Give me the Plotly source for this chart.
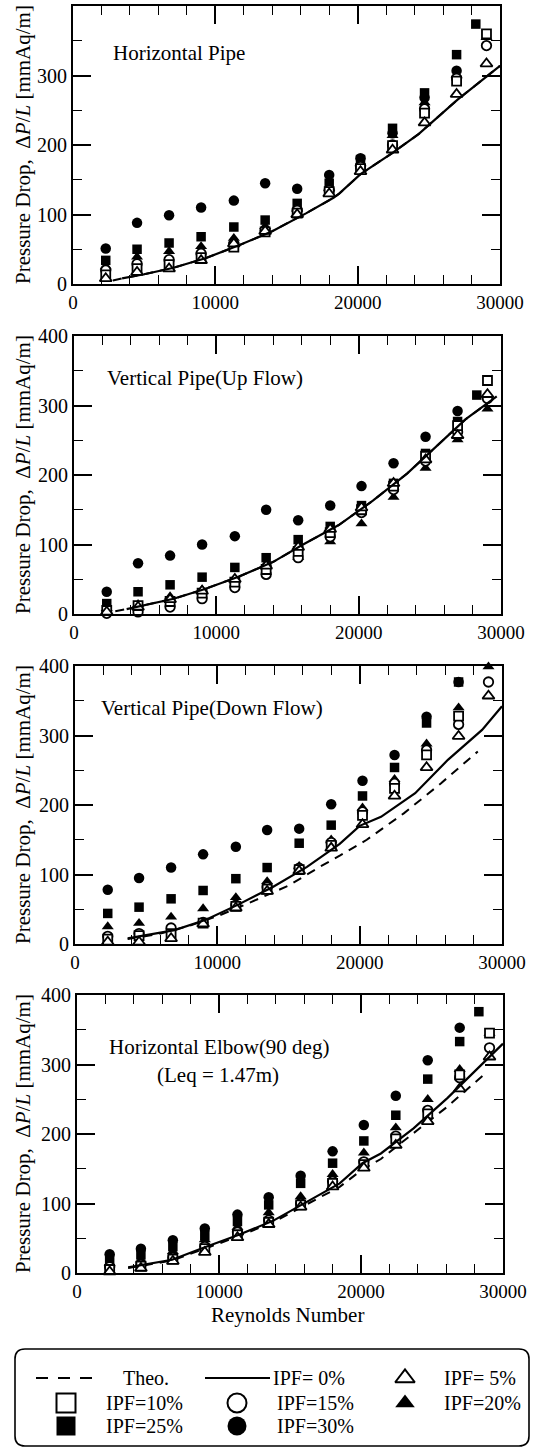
import plotly.graph_objects as go

W, H = 537, 1449
FONT = "Liberation Serif, Times New Roman, serif"

# ---------------- data ----------------
RE = [2300, 4500, 6750, 9000, 11300, 13500, 15750, 18000, 20200, 22450, 24700, 26950, 29050]
RE_25 = [2300, 4500, 6750, 9000, 11300, 13500, 15750, 18000, 20200, 22450, 24700, 26950, 28300]

X_TICKS = [0, 10000, 20000, 30000]
Y_TICKS = [0, 100, 200, 300, 400]

PANEL_TITLES = ["Horizontal Pipe", "Vertical Pipe(Up Flow)",
                "Vertical Pipe(Down Flow)", "Horizontal Elbow(90 deg)"]
ELBOW_NOTE = "(Leq = 1.47m)"
Y_TITLE = "Pressure Drop,  Δ<i>P</i>/<i>L</i> [mmAq/m]"
X_TITLE = "Reynolds Number"

# Horizontal pipe
HP_IPF30 = [51, 88, 99, 110, 120, 145, 137, 157, 181, 217, 268, 307, None]
HP_IPF25 = [34, 50, 59, 68, 82, 92, 116, 145, 179, 224, 275, 330, 374]
HP_IPF20 = [25, 39, 47, 54, 66, 83, 108, 138, 174, 214, 261, 301, 355]
HP_IPF15 = [20, 29, 35, 44, 58, 77, 106, 135, 169, 200, 252, 296, 343]
HP_IPF10 = [13, 22, 28, 38, 53, 75, 102, 133, 166, 199, 246, 292, 360]
HP_IPF05 = [8, 17, 22, 34, 58, 76, 100, 130, 162, 193, 232, 273, 317]
HP_IPF0_RE = [3450, 5000, 7000, 9300, 11700, 14000, 16400, 18300, 18700, 20200, 22400, 24300, 27000, 30000]
HP_IPF0 = [8, 14, 23, 37, 56, 76, 102, 124, 130, 158, 188, 216, 265, 314]
HP_THEO_RE = [2800, 3450, 5000, 7000, 9300, 11700, 14000, 16400, 18300, 18700, 20200, 22400, 24300, 27000, 30000]
HP_THEO = [5, 8, 14, 23, 37, 56, 76, 102, 124, 130, 158, 188, 216, 265, 314]

# Vertical pipe, up flow
VU_IPF30 = [32, 73, 84, 100, 112, 150, 135, 156, 184, 217, 255, 292, None]
VU_IPF25 = [15, 32, 42, 53, 67, 81, 107, 126, 156, 188, 231, 277, 315]
VU_IPF20 = [8, 14, 25, 35, 48, 72, 82, 104, 130, 168, 210, 251, 295]
VU_IPF15 = [1, 3, 10, 22, 38, 57, 81, 111, 146, 179, 220, 262, 310]
VU_IPF10 = [5, 12, 18, 30, 46, 64, 90, 117, 150, 184, 227, 271, 336]
VU_IPF05 = [3, 10, 21, 33, 50, 69, 96, 122, 153, 188, 222, 257, 316]
VU_IPF0_RE = [3700, 5000, 7000, 9200, 11600, 14000, 16000, 18600, 21000, 23400, 25800, 27500, 29700]
VU_IPF0 = [7, 13, 22, 36, 54, 75, 99, 128, 163, 202, 248, 280, 313]
VU_THEO_RE = [2900, 3700, 5000, 7000, 9200, 11600, 14000, 16000, 18600, 21000, 23400, 25800, 27500, 29700]
VU_THEO = [4, 7, 13, 22, 36, 54, 75, 99, 128, 163, 202, 248, 280, 313]

# Vertical pipe, down flow
VD_IPF30 = [78, 95, 110, 129, 140, 164, 166, 201, 235, 272, 327, 377, None]
VD_IPF25 = [44, 53, 65, 77, 94, 110, 145, 171, 213, 254, 318, 377, None]
VD_IPF20 = [25, 30, 39, 51, 67, 90, 112, 150, 196, 237, 288, 340, 399]
VD_IPF15 = [11, 15, 23, 31, 56, 82, 109, 146, 190, 231, 279, 316, 377]
VD_IPF10 = [7, 12, 15, 30, 54, 79, 107, 142, 185, 224, 272, 328, None]
VD_IPF05 = [3, 3, 8, 29, 52, 76, 105, 138, 172, 213, 254, 299, 357]
VD_IPF0_RE = [3700, 5000, 7000, 9200, 11500, 13900, 16300, 18600, 20000, 21500, 23900, 26200, 28600, 30000]
VD_IPF0 = [8, 13, 20, 35, 57, 82, 111, 144, 170, 183, 217, 265, 308, 342]
VD_THEO_RE = [3700, 6000, 8000, 10000, 12000, 14000, 15000, 17200, 18600, 20500, 23100, 25700, 28300]
VD_THEO = [7, 15, 26, 40, 57, 75, 84, 111, 127, 150, 188, 231, 277]

# Horizontal elbow (90 deg)
HE_IPF30 = [27, 35, 47, 64, 84, 109, 140, 175, 213, 255, 306, 353, None]
HE_IPF25 = [19, 26, 38, 54, 74, 98, 129, 158, 190, 227, 279, 333, 376]
HE_IPF20 = [14, 19, 31, 48, 66, 87, 110, 142, 173, 209, 250, 293, 345]
HE_IPF15 = [9, 12, 22, 38, 59, 76, 100, 132, 160, 197, 234, 281, 324]
HE_IPF10 = [5, 10, 20, 35, 55, 73, 98, 129, 156, 193, 229, 285, 345]
HE_IPF05 = [2, 7, 17, 30, 51, 70, 95, 124, 151, 184, 218, 265, 311]
HE_IPF0_RE = [3600, 5000, 6700, 9000, 11400, 13800, 16100, 18500, 20100, 21400, 23700, 26100, 28400, 30000]
HE_IPF0 = [8, 13, 19, 37, 55, 75, 101, 129, 158, 172, 208, 252, 298, 330]
HE_THEO_RE = [3600, 6700, 9000, 11400, 13800, 16100, 18500, 20100, 21400, 23000, 26000, 28700]
HE_THEO = [7, 18, 35, 53, 73, 98, 124, 149, 164, 190, 238, 286]

PANELS = [
    (HP_THEO_RE, HP_THEO, HP_IPF0_RE, HP_IPF0, HP_IPF30, HP_IPF25, HP_IPF20, HP_IPF15, HP_IPF10, HP_IPF05),
    (VU_THEO_RE, VU_THEO, VU_IPF0_RE, VU_IPF0, VU_IPF30, VU_IPF25, VU_IPF20, VU_IPF15, VU_IPF10, VU_IPF05),
    (VD_THEO_RE, VD_THEO, VD_IPF0_RE, VD_IPF0, VD_IPF30, VD_IPF25, VD_IPF20, VD_IPF15, VD_IPF10, VD_IPF05),
    (HE_THEO_RE, HE_THEO, HE_IPF0_RE, HE_IPF0, HE_IPF30, HE_IPF25, HE_IPF20, HE_IPF15, HE_IPF10, HE_IPF05),
]

LEGEND_LABELS = ["Theo.", "IPF= 0%", "IPF= 5%", "IPF=10%", "IPF=15%", "IPF=20%", "IPF=25%", "IPF=30%"]

# ---------------- layout / styles ----------------
PANEL_PX = [(73, 500, 6, 284), (74, 501, 336, 614), (75, 502, 666, 944), (77, 503, 995, 1273)]
TITLE_PX = [(111, 53), (105, 378), (99, 708), (107, 1047)]
NOTE_PX = (155, 1075)
LEG_TOP = 1335


def px(x):
    return x / W


def py(y):
    return 1 - y / H


FILLED = dict(color="black", line=dict(width=0))
OPEN = dict(color="white", line=dict(color="black", width=1.8))
STYLES = {
    "IPF=30%": dict(symbol="circle", size=10.5, **FILLED),
    "IPF=25%": dict(symbol="square", size=9.5, **FILLED),
    "IPF=20%": dict(symbol="triangle-up", size=10.5, **FILLED),
    "IPF=15%": dict(symbol="circle", size=9.5, **OPEN),
    "IPF=10%": dict(symbol="square", size=9, **OPEN),
    "IPF= 5%": dict(symbol="triangle-up", size=10.5, **OPEN),
}

fig = go.Figure()

for i, panel in enumerate(PANELS, start=1):
    theo_re, theo, l_re, l_v, d30, d25, d20, d15, d10, d05 = panel
    xa = "x" if i == 1 else f"x{i}"
    ya = "y" if i == 1 else f"y{i}"
    fig.add_trace(go.Scatter(x=theo_re, y=theo, mode="lines", xaxis=xa, yaxis=ya,
                             line=dict(color="black", width=2, dash="9px,7px"),
                             showlegend=False, hoverinfo="skip"))
    for name, xs, ys in [("IPF=30%", RE, d30), ("IPF=25%", RE_25, d25), ("IPF=20%", RE, d20),
                         ("IPF=15%", RE, d15), ("IPF=10%", RE, d10), ("IPF= 5%", RE, d05)]:
        fig.add_trace(go.Scatter(x=xs, y=ys, mode="markers", xaxis=xa, yaxis=ya,
                                 marker=STYLES[name], cliponaxis=False,
                                 showlegend=False, name=name))
    fig.add_trace(go.Scatter(x=l_re, y=l_v, mode="lines", xaxis=xa, yaxis=ya,
                             line=dict(color="black", width=2.2),
                             showlegend=False, name="IPF= 0%"))

xtickfont = dict(family=FONT, size=19, color="black")
ytickfont = dict(family=FONT, size=20, color="black")
layout = {}
for i, (l, r, t, b) in enumerate(PANEL_PX, start=1):
    sfx = "" if i == 1 else str(i)
    layout[f"xaxis{sfx}"] = dict(
        domain=[px(l), px(r)], range=[0, 30000], anchor=f"y{sfx}", automargin=False,
        tickmode="array", tickvals=X_TICKS, ticktext=[str(v) for v in X_TICKS],
        ticks="inside", ticklen=18, tickwidth=1.6, tickcolor="black",
        minor=dict(dtick=2000, tick0=0, ticks="inside", ticklen=9, tickwidth=1.4, tickcolor="black"),
        showline=True, linecolor="black", linewidth=1.8, mirror="ticks",
        showgrid=False, zeroline=False, tickfont=xtickfont, fixedrange=True)
    layout[f"yaxis{sfx}"] = dict(
        domain=[py(b), py(t)], range=[0, 400], anchor=f"x{sfx}", automargin=False,
        tickmode="array", tickvals=Y_TICKS, ticktext=[str(v) for v in Y_TICKS],
        ticks="inside", ticklen=18, tickwidth=1.6, tickcolor="black",
        minor=dict(dtick=50, tick0=0, ticks="inside", ticklen=9, tickwidth=1.4, tickcolor="black"),
        showline=True, linecolor="black", linewidth=1.8, mirror="ticks",
        showgrid=False, zeroline=False, tickfont=ytickfont, fixedrange=True)

# hidden axis for the hand-made legend (only covers the legend strip)
layout["xaxis5"] = dict(domain=[0, 1], range=[0, W], visible=False, anchor="y5",
                        fixedrange=True, automargin=False)
layout["yaxis5"] = dict(domain=[0, py(LEG_TOP)], range=[H, LEG_TOP], visible=False, anchor="x5",
                        fixedrange=True, automargin=False)

annotations = []
for i, (l, r, t, b) in enumerate(PANEL_PX):
    annotations.append(dict(x=px(23), y=py((t + b) / 2), xref="paper", yref="paper",
                            text=Y_TITLE, textangle=-90, showarrow=False,
                            font=dict(family=FONT, size=21, color="black"),
                            xanchor="center", yanchor="middle"))
for (tx, ty), title in zip(TITLE_PX, PANEL_TITLES):
    annotations.append(dict(x=px(tx), y=py(ty), xref="paper", yref="paper", text=title,
                            showarrow=False, xanchor="left", yanchor="middle",
                            font=dict(family=FONT, size=21, color="black")))
annotations.append(dict(x=px(NOTE_PX[0]), y=py(NOTE_PX[1]), xref="paper", yref="paper",
                        text=ELBOW_NOTE, showarrow=False, xanchor="left", yanchor="middle",
                        font=dict(family=FONT, size=21, color="black")))
annotations.append(dict(x=px(287), y=py(1315), xref="paper", yref="paper", text=X_TITLE,
                        showarrow=False, xanchor="center", yanchor="middle",
                        font=dict(family=FONT, size=21, color="black")))

# legend grid (positions in px of the hidden axis)
LEG_ROWS = [1378, 1403, 1426]
LEG_SYM_X = [66, 237, 405]
LEG_TXT_X = [104, 275, 442]
LEG_LINE_X = [(36, 94), (205, 270)]
LEG_TXT_LINE_X = [121, 271]
LEG_SIZE = {"circle": 19, "square": 19, "triangle-up": 17}

for k, label in enumerate(LEGEND_LABELS):
    col, row = k % 3, k // 3
    yrow = LEG_ROWS[row]
    if k < 2:
        x0, x1 = LEG_LINE_X[col]
        fig.add_trace(go.Scatter(x=[x0, x1], y=[yrow, yrow], mode="lines", xaxis="x5", yaxis="y5",
                                 line=dict(color="black", width=1.8,
                                           dash="12px,10px" if k == 0 else "solid"),
                                 showlegend=False, hoverinfo="skip"))
        tx = LEG_TXT_LINE_X[col]
    else:
        st = dict(STYLES[label])
        st["size"] = LEG_SIZE[st["symbol"]]
        if "line" in st and st["line"].get("width", 0) > 0:
            st["line"] = dict(color="black", width=2)
        fig.add_trace(go.Scatter(x=[LEG_SYM_X[col]], y=[yrow], mode="markers", xaxis="x5", yaxis="y5",
                                 marker=st, showlegend=False, hoverinfo="skip"))
        tx = LEG_TXT_X[col]
    annotations.append(dict(x=px(tx), y=py(yrow), xref="paper", yref="paper", text=label,
                            showarrow=False, xanchor="left", yanchor="middle",
                            font=dict(family=FONT, size=20, color="black")))


def rounded_rect(x0, y0, x1, y1, r):
    X = lambda v: f"{px(v):.5f}"
    Y = lambda v: f"{py(v):.5f}"
    return (f"M {X(x0 + r)} {Y(y0)} L {X(x1 - r)} {Y(y0)} Q {X(x1)} {Y(y0)} {X(x1)} {Y(y0 + r)} "
            f"L {X(x1)} {Y(y1 - r)} Q {X(x1)} {Y(y1)} {X(x1 - r)} {Y(y1)} "
            f"L {X(x0 + r)} {Y(y1)} Q {X(x0)} {Y(y1)} {X(x0)} {Y(y1 - r)} "
            f"L {X(x0)} {Y(y0 + r)} Q {X(x0)} {Y(y0)} {X(x0 + r)} {Y(y0)} Z")


shapes = [dict(type="path", xref="paper", yref="paper", path=rounded_rect(15, 1349, 529, 1446, 10),
               line=dict(color="black", width=1.6))]

fig.update_layout(width=W, height=H,
                  margin=dict(l=0, r=0, t=0, b=0, pad=0, autoexpand=False),
                  paper_bgcolor="white", plot_bgcolor="rgba(0,0,0,0)", showlegend=False,
                  autosize=False,
                  annotations=annotations, shapes=shapes, **layout)

fig.write_html("out.html", config={"responsive": False, "displayModeBar": False},
               post_script="document.body.style.margin='0px';document.body.style.overflow='hidden';")
